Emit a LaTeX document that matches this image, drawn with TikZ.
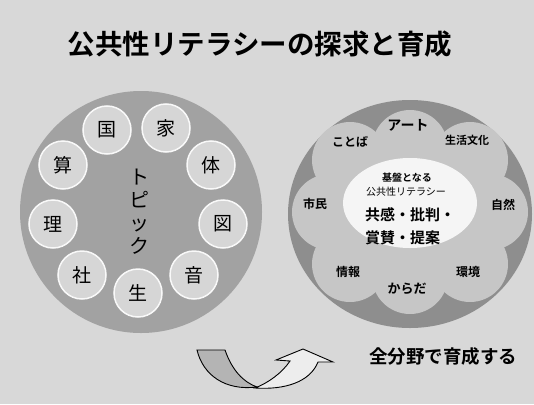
\documentclass[tikz,border=0pt]{standalone}
\usepackage{fontspec}
\usetikzlibrary{shapes.geometric}
\newfontfamily\jp{Noto Sans CJK JP}
\newfontfamily\jpb{Noto Sans CJK JP Bold}
\definecolor{bg}{HTML}{D8D8D8}
\definecolor{bigl}{HTML}{A2A2A2}
\definecolor{smallc}{HTML}{D6D6D6}
\definecolor{ring}{HTML}{8E8E8E}
\definecolor{petal}{HTML}{C6C6C6}
\definecolor{band}{HTML}{B4B4B4}
\tikzset{
  subj/.style={circle, minimum size=48pt, inner sep=0pt, fill=smallc, draw=white!85!smallc, line width=1.5pt, font=\jp\fontsize{19}{19}\selectfont},
  plabel/.style={font=\jpb\fontsize{12}{12}\selectfont, inner sep=0pt},
  ctext/.style={font=\jpb\fontsize{15}{17}\selectfont, inner sep=0pt, anchor=west},
}
\begin{document}
\begin{tikzpicture}[x=1pt,y=-1pt]
\path[fill=bg] (0,0) rectangle (534,404);
\useasboundingbox (0,0) rectangle (534,404);
% title
\node[font=\jpb\fontsize{27.5}{28}\selectfont, inner sep=0pt] (title) at (260,44) {公共性リテラシーの探求と育成};
% left circle
\node[circle, fill=bigl, minimum size=242pt, inner sep=0pt] (left) at (141,212) {};
\node[subj] (kokugo) at (107,130) {国};
\node[subj] (katei) at (166,128) {家};
\node[subj] (taiiku) at (211,165) {体};
\node[subj] (zuko) at (223,224) {図};
\node[subj] (ongaku) at (194,275) {音};
\node[subj] (seikatsu) at (138,293) {生};
\node[subj] (shakai) at (82,275) {社};
\node[subj] (rika) at (53,224) {理};
\node[subj] (sansu) at (63,165) {算};
\node[font=\jp\fontsize{20}{23}\selectfont, align=center, inner sep=0pt] (topic) at (139,212) {ト\\ピ\\ッ\\ク};
% right circle
\node[ellipse, fill=ring, minimum width=244pt, minimum height=228pt, inner sep=0pt, draw=none] (right) at (410,214) {};
\begin{scope}[shift={(410,212)}]
  \fill[petal] (0,0) ellipse [x radius=82, y radius=66];
  \foreach \px/\py in {80/0, 60/52, 0/64, -60/52, -80/0, -60/-52, 0/-64, 60/-52}{
    \fill[petal] (\px,\py) circle [radius=38];
  }
\end{scope}
\node[ellipse, fill=white!96!black, minimum width=134pt, minimum height=90pt, inner sep=0pt] (core) at (410,203) {};
\node[font=\jpb\fontsize{10}{10}\selectfont, inner sep=0pt] (kiban) at (407,178) {基盤となる};
\node[font=\jp\fontsize{10}{10}\selectfont, inner sep=0pt] (kokyo) at (406,192) {公共性リテラシー};
\node[ctext] (kyokan) at (365,215) {共感・批判・};
\node[ctext] (shosan) at (365,238) {賞賛・提案};
\node[plabel, font=\jpb\fontsize{14}{14}\selectfont] (art) at (408,125) {アート};
\node[plabel] (kotoba) at (350,142) {ことば};
\node[plabel, font=\jpb\fontsize{11}{11}\selectfont] (bunka) at (467,140) {生活文化};
\node[plabel] (shimin) at (315,204) {市民};
\node[plabel] (shizen) at (503,205) {自然};
\node[plabel] (joho) at (348,272) {情報};
\node[plabel] (kankyo) at (468,272) {環境};
\node[plabel, font=\jpb\fontsize{13}{13}\selectfont] (karada) at (407,289) {からだ};
% arrow
\path[fill=band, draw=black, line width=0.9pt] (197,350) -- (225,350) .. controls (232,370) and (243,382) .. (257,387) .. controls (225,391) and (203,375) .. (197,350) -- cycle;
\path[fill=white!93!black, draw=black, line width=0.9pt] (255,388) .. controls (268,383) and (282,373) .. (290,361) -- (276,360) -- (303,349) -- (333,362) -- (318,362) .. controls (310,382) and (285,390) .. (255,388) -- cycle;
\coordinate (arrowtip) at (303,349);
% bottom text
\node[font=\jpb\fontsize{18.5}{19}\selectfont, inner sep=0pt] (zenbunya) at (443,356) {全分野で育成する};
\end{tikzpicture}
\end{document}
